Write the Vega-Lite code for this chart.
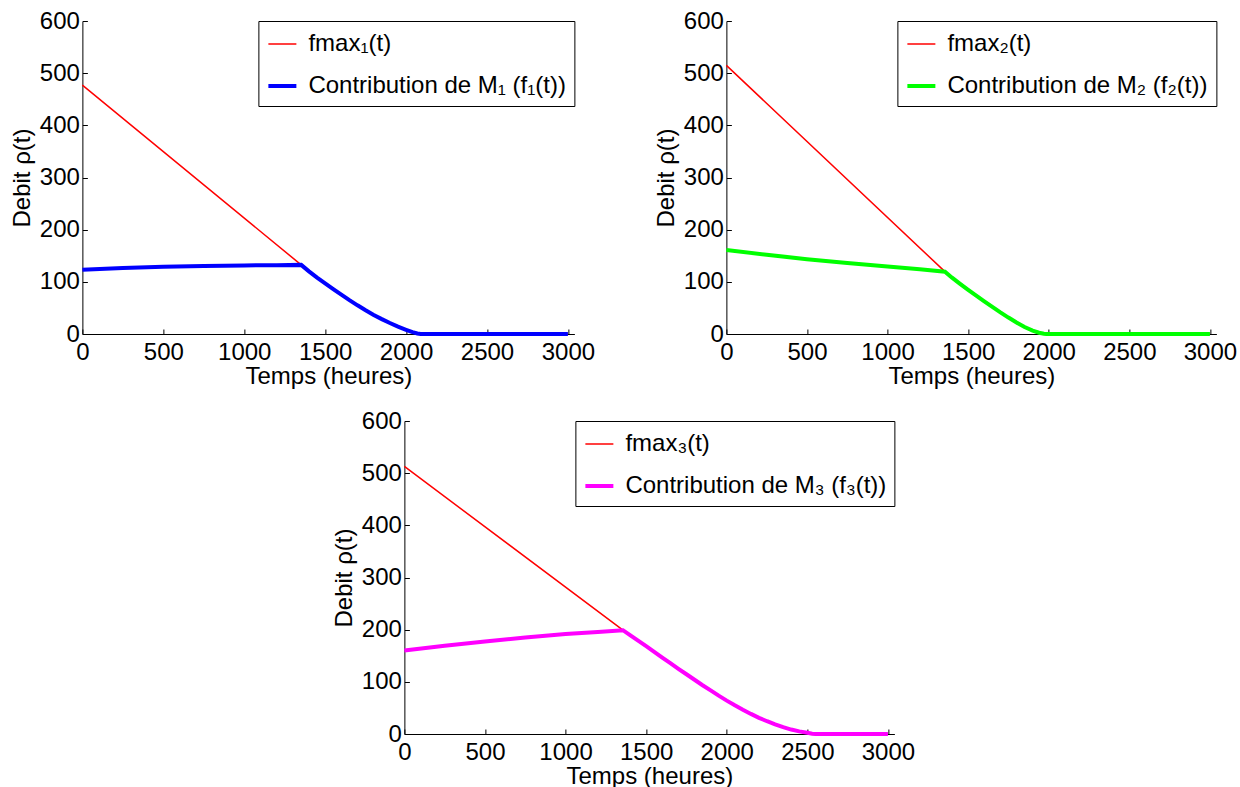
{
  "$schema": "https://vega.github.io/schema/vega-lite/v6.json",
  "padding": {"left": 10, "top": 9, "right": 0, "bottom": 0},
  "background": "white",
  "config": {
    "font": "Liberation Sans",
    "view": {"stroke": null},
    "axis": {
      "labelFont": "Liberation Sans", "titleFont": "Liberation Sans",
      "labelFontSize": 24, "titleFontSize": 24, "titleFontWeight": "normal",
      "labelColor": "black", "titleColor": "black",
      "domainColor": "black", "tickColor": "black", "domainWidth": 1, "tickWidth": 1,
      "tickSize": -5, "grid": false, "labelFlush": false, "labelOverlap": false, "format": "d"
    },
    "axisX": {"titlePadding": 0, "labelPadding": 11},
    "axisY": {"titlePadding": 5, "labelPadding": 8},
    "legend": {
      "orient": "top-right", "offset": 0, "title": null,
      "fillColor": "white", "strokeColor": "black", "padding": 8,
      "labelFont": "Liberation Sans", "labelFontSize": 24, "labelColor": "black", "labelLimit": 500,
      "symbolType": "stroke", "symbolSize": 784, "rowPadding": 14, "labelOffset": 10
    }
  },
  "resolve": {"scale": {"color": "independent", "strokeWidth": "independent"}, "legend": {"color": "independent", "strokeWidth": "independent"}},
  "center": true,
  "spacing": 21,
  "vconcat": [
    {
      "hconcat": [
        {
          "width": 492, "height": 313,
          "data": {"values": [
            {"series": "fmax₁(t)", "t": 0, "v": 477},
            {"series": "fmax₁(t)", "t": 1352, "v": 132.5},
            {"series": "fmax₁(t)", "t": 1400, "v": 120},
            {"series": "fmax₁(t)", "t": 1450, "v": 108},
            {"series": "fmax₁(t)", "t": 1500, "v": 97},
            {"series": "fmax₁(t)", "t": 1550, "v": 86},
            {"series": "fmax₁(t)", "t": 1600, "v": 75.5},
            {"series": "fmax₁(t)", "t": 1650, "v": 65},
            {"series": "fmax₁(t)", "t": 1700, "v": 55},
            {"series": "fmax₁(t)", "t": 1750, "v": 45.5},
            {"series": "fmax₁(t)", "t": 1800, "v": 36.5},
            {"series": "fmax₁(t)", "t": 1850, "v": 28.5},
            {"series": "fmax₁(t)", "t": 1900, "v": 21},
            {"series": "fmax₁(t)", "t": 1950, "v": 14},
            {"series": "fmax₁(t)", "t": 2000, "v": 8},
            {"series": "fmax₁(t)", "t": 2040, "v": 3.5},
            {"series": "fmax₁(t)", "t": 2070, "v": 1},
            {"series": "fmax₁(t)", "t": 2090, "v": 0},
            {"series": "fmax₁(t)", "t": 3000, "v": 0},
            {"series": "Contribution de M₁ (f₁(t))", "t": 0, "v": 123},
            {"series": "Contribution de M₁ (f₁(t))", "t": 250, "v": 126.5},
            {"series": "Contribution de M₁ (f₁(t))", "t": 500, "v": 129},
            {"series": "Contribution de M₁ (f₁(t))", "t": 750, "v": 130.5},
            {"series": "Contribution de M₁ (f₁(t))", "t": 1000, "v": 131.5},
            {"series": "Contribution de M₁ (f₁(t))", "t": 1200, "v": 132},
            {"series": "Contribution de M₁ (f₁(t))", "t": 1352, "v": 132.5},
            {"series": "Contribution de M₁ (f₁(t))", "t": 1400, "v": 120},
            {"series": "Contribution de M₁ (f₁(t))", "t": 1450, "v": 108},
            {"series": "Contribution de M₁ (f₁(t))", "t": 1500, "v": 97},
            {"series": "Contribution de M₁ (f₁(t))", "t": 1550, "v": 86},
            {"series": "Contribution de M₁ (f₁(t))", "t": 1600, "v": 75.5},
            {"series": "Contribution de M₁ (f₁(t))", "t": 1650, "v": 65},
            {"series": "Contribution de M₁ (f₁(t))", "t": 1700, "v": 55},
            {"series": "Contribution de M₁ (f₁(t))", "t": 1750, "v": 45.5},
            {"series": "Contribution de M₁ (f₁(t))", "t": 1800, "v": 36.5},
            {"series": "Contribution de M₁ (f₁(t))", "t": 1850, "v": 28.5},
            {"series": "Contribution de M₁ (f₁(t))", "t": 1900, "v": 21},
            {"series": "Contribution de M₁ (f₁(t))", "t": 1950, "v": 14},
            {"series": "Contribution de M₁ (f₁(t))", "t": 2000, "v": 8},
            {"series": "Contribution de M₁ (f₁(t))", "t": 2040, "v": 3.5},
            {"series": "Contribution de M₁ (f₁(t))", "t": 2070, "v": 1},
            {"series": "Contribution de M₁ (f₁(t))", "t": 2090, "v": 0},
            {"series": "Contribution de M₁ (f₁(t))", "t": 3000, "v": 0}
          ]},
          "encoding": {
            "x": {"field": "t", "type": "quantitative", "scale": {"domain": [0, 3040], "nice": false}, "axis": {"values": [0, 500, 1000, 1500, 2000, 2500, 3000], "title": "Temps (heures)"}},
            "y": {"field": "v", "type": "quantitative", "scale": {"domain": [0, 600], "nice": false}, "axis": {"values": [0, 100, 200, 300, 400, 500, 600], "title": "Debit ρ(t)"}},
            "color": {"field": "series", "type": "nominal", "scale": {"domain": ["fmax₁(t)", "Contribution de M₁ (f₁(t))"], "range": ["#ff0000", "#0000ff"]}},
            "strokeWidth": {"field": "series", "type": "nominal", "scale": {"type": "ordinal", "domain": ["fmax₁(t)", "Contribution de M₁ (f₁(t))"], "range": [1.5, 4]}}
          },
          "layer": [
            {"transform": [{"filter": "indexof(datum.series, 'fmax') == 0"}], "mark": {"type": "line"}},
            {"transform": [{"filter": "indexof(datum.series, 'fmax') != 0"}], "mark": {"type": "line"}}
          ]
        },
        {
          "width": 490, "height": 313,
          "data": {"values": [
            {"series": "fmax₂(t)", "t": 0, "v": 515},
            {"series": "fmax₂(t)", "t": 1356, "v": 119.5},
            {"series": "fmax₂(t)", "t": 1400, "v": 108},
            {"series": "fmax₂(t)", "t": 1450, "v": 96},
            {"series": "fmax₂(t)", "t": 1500, "v": 84.5},
            {"series": "fmax₂(t)", "t": 1550, "v": 73.5},
            {"series": "fmax₂(t)", "t": 1600, "v": 62.5},
            {"series": "fmax₂(t)", "t": 1650, "v": 52},
            {"series": "fmax₂(t)", "t": 1700, "v": 41.5},
            {"series": "fmax₂(t)", "t": 1750, "v": 31.5},
            {"series": "fmax₂(t)", "t": 1800, "v": 22},
            {"series": "fmax₂(t)", "t": 1850, "v": 13.5},
            {"series": "fmax₂(t)", "t": 1900, "v": 6.5},
            {"series": "fmax₂(t)", "t": 1940, "v": 2.5},
            {"series": "fmax₂(t)", "t": 1970, "v": 0.5},
            {"series": "fmax₂(t)", "t": 1985, "v": 0},
            {"series": "fmax₂(t)", "t": 3000, "v": 0},
            {"series": "Contribution de M₂ (f₂(t))", "t": 0, "v": 161},
            {"series": "Contribution de M₂ (f₂(t))", "t": 250, "v": 152},
            {"series": "Contribution de M₂ (f₂(t))", "t": 500, "v": 143.5},
            {"series": "Contribution de M₂ (f₂(t))", "t": 750, "v": 136},
            {"series": "Contribution de M₂ (f₂(t))", "t": 1000, "v": 129.5},
            {"series": "Contribution de M₂ (f₂(t))", "t": 1200, "v": 124},
            {"series": "Contribution de M₂ (f₂(t))", "t": 1356, "v": 119.5},
            {"series": "Contribution de M₂ (f₂(t))", "t": 1400, "v": 108},
            {"series": "Contribution de M₂ (f₂(t))", "t": 1450, "v": 96},
            {"series": "Contribution de M₂ (f₂(t))", "t": 1500, "v": 84.5},
            {"series": "Contribution de M₂ (f₂(t))", "t": 1550, "v": 73.5},
            {"series": "Contribution de M₂ (f₂(t))", "t": 1600, "v": 62.5},
            {"series": "Contribution de M₂ (f₂(t))", "t": 1650, "v": 52},
            {"series": "Contribution de M₂ (f₂(t))", "t": 1700, "v": 41.5},
            {"series": "Contribution de M₂ (f₂(t))", "t": 1750, "v": 31.5},
            {"series": "Contribution de M₂ (f₂(t))", "t": 1800, "v": 22},
            {"series": "Contribution de M₂ (f₂(t))", "t": 1850, "v": 13.5},
            {"series": "Contribution de M₂ (f₂(t))", "t": 1900, "v": 6.5},
            {"series": "Contribution de M₂ (f₂(t))", "t": 1940, "v": 2.5},
            {"series": "Contribution de M₂ (f₂(t))", "t": 1970, "v": 0.5},
            {"series": "Contribution de M₂ (f₂(t))", "t": 1985, "v": 0},
            {"series": "Contribution de M₂ (f₂(t))", "t": 3000, "v": 0}
          ]},
          "encoding": {
            "x": {"field": "t", "type": "quantitative", "scale": {"domain": [0, 3040], "nice": false}, "axis": {"values": [0, 500, 1000, 1500, 2000, 2500, 3000], "title": "Temps (heures)"}},
            "y": {"field": "v", "type": "quantitative", "scale": {"domain": [0, 600], "nice": false}, "axis": {"values": [0, 100, 200, 300, 400, 500, 600], "title": "Debit ρ(t)"}},
            "color": {"field": "series", "type": "nominal", "scale": {"domain": ["fmax₂(t)", "Contribution de M₂ (f₂(t))"], "range": ["#ff0000", "#00ff00"]}},
            "strokeWidth": {"field": "series", "type": "nominal", "scale": {"type": "ordinal", "domain": ["fmax₂(t)", "Contribution de M₂ (f₂(t))"], "range": [1.5, 4]}}
          },
          "layer": [
            {"transform": [{"filter": "indexof(datum.series, 'fmax') == 0"}], "mark": {"type": "line"}},
            {"transform": [{"filter": "indexof(datum.series, 'fmax') != 0"}], "mark": {"type": "line"}}
          ]
        }
      ],
      "spacing": 58,
      "resolve": {"scale": {"color": "independent", "strokeWidth": "independent"}, "legend": {"color": "independent", "strokeWidth": "independent"}}
    },
    {
      "width": 490, "height": 313,
      "data": {"values": [
        {"series": "fmax₃(t)", "t": 0, "v": 513},
        {"series": "fmax₃(t)", "t": 1356, "v": 199},
        {"series": "fmax₃(t)", "t": 1400, "v": 189.5},
        {"series": "fmax₃(t)", "t": 1450, "v": 179},
        {"series": "fmax₃(t)", "t": 1500, "v": 168.5},
        {"series": "fmax₃(t)", "t": 1550, "v": 157.5},
        {"series": "fmax₃(t)", "t": 1600, "v": 146.5},
        {"series": "fmax₃(t)", "t": 1650, "v": 136},
        {"series": "fmax₃(t)", "t": 1700, "v": 125},
        {"series": "fmax₃(t)", "t": 1750, "v": 114.5},
        {"series": "fmax₃(t)", "t": 1800, "v": 104},
        {"series": "fmax₃(t)", "t": 1850, "v": 93.5},
        {"series": "fmax₃(t)", "t": 1900, "v": 83.5},
        {"series": "fmax₃(t)", "t": 1950, "v": 73.5},
        {"series": "fmax₃(t)", "t": 2000, "v": 64},
        {"series": "fmax₃(t)", "t": 2050, "v": 55},
        {"series": "fmax₃(t)", "t": 2100, "v": 46.5},
        {"series": "fmax₃(t)", "t": 2150, "v": 38.5},
        {"series": "fmax₃(t)", "t": 2200, "v": 31},
        {"series": "fmax₃(t)", "t": 2250, "v": 24.5},
        {"series": "fmax₃(t)", "t": 2300, "v": 18.5},
        {"series": "fmax₃(t)", "t": 2350, "v": 13},
        {"series": "fmax₃(t)", "t": 2400, "v": 8.5},
        {"series": "fmax₃(t)", "t": 2450, "v": 5},
        {"series": "fmax₃(t)", "t": 2500, "v": 2.3},
        {"series": "fmax₃(t)", "t": 2530, "v": 0.5},
        {"series": "fmax₃(t)", "t": 2550, "v": 0},
        {"series": "fmax₃(t)", "t": 3000, "v": 0},
        {"series": "Contribution de M₃ (f₃(t))", "t": 0, "v": 160},
        {"series": "Contribution de M₃ (f₃(t))", "t": 250, "v": 169},
        {"series": "Contribution de M₃ (f₃(t))", "t": 500, "v": 177.5},
        {"series": "Contribution de M₃ (f₃(t))", "t": 750, "v": 185},
        {"series": "Contribution de M₃ (f₃(t))", "t": 1000, "v": 191.5},
        {"series": "Contribution de M₃ (f₃(t))", "t": 1200, "v": 195.5},
        {"series": "Contribution de M₃ (f₃(t))", "t": 1356, "v": 199},
        {"series": "Contribution de M₃ (f₃(t))", "t": 1400, "v": 189.5},
        {"series": "Contribution de M₃ (f₃(t))", "t": 1450, "v": 179},
        {"series": "Contribution de M₃ (f₃(t))", "t": 1500, "v": 168.5},
        {"series": "Contribution de M₃ (f₃(t))", "t": 1550, "v": 157.5},
        {"series": "Contribution de M₃ (f₃(t))", "t": 1600, "v": 146.5},
        {"series": "Contribution de M₃ (f₃(t))", "t": 1650, "v": 136},
        {"series": "Contribution de M₃ (f₃(t))", "t": 1700, "v": 125},
        {"series": "Contribution de M₃ (f₃(t))", "t": 1750, "v": 114.5},
        {"series": "Contribution de M₃ (f₃(t))", "t": 1800, "v": 104},
        {"series": "Contribution de M₃ (f₃(t))", "t": 1850, "v": 93.5},
        {"series": "Contribution de M₃ (f₃(t))", "t": 1900, "v": 83.5},
        {"series": "Contribution de M₃ (f₃(t))", "t": 1950, "v": 73.5},
        {"series": "Contribution de M₃ (f₃(t))", "t": 2000, "v": 64},
        {"series": "Contribution de M₃ (f₃(t))", "t": 2050, "v": 55},
        {"series": "Contribution de M₃ (f₃(t))", "t": 2100, "v": 46.5},
        {"series": "Contribution de M₃ (f₃(t))", "t": 2150, "v": 38.5},
        {"series": "Contribution de M₃ (f₃(t))", "t": 2200, "v": 31},
        {"series": "Contribution de M₃ (f₃(t))", "t": 2250, "v": 24.5},
        {"series": "Contribution de M₃ (f₃(t))", "t": 2300, "v": 18.5},
        {"series": "Contribution de M₃ (f₃(t))", "t": 2350, "v": 13},
        {"series": "Contribution de M₃ (f₃(t))", "t": 2400, "v": 8.5},
        {"series": "Contribution de M₃ (f₃(t))", "t": 2450, "v": 5},
        {"series": "Contribution de M₃ (f₃(t))", "t": 2500, "v": 2.3},
        {"series": "Contribution de M₃ (f₃(t))", "t": 2530, "v": 0.5},
        {"series": "Contribution de M₃ (f₃(t))", "t": 2550, "v": 0},
        {"series": "Contribution de M₃ (f₃(t))", "t": 3000, "v": 0}
      ]},
      "encoding": {
        "x": {"field": "t", "type": "quantitative", "scale": {"domain": [0, 3040], "nice": false}, "axis": {"values": [0, 500, 1000, 1500, 2000, 2500, 3000], "title": "Temps (heures)"}},
        "y": {"field": "v", "type": "quantitative", "scale": {"domain": [0, 600], "nice": false}, "axis": {"values": [0, 100, 200, 300, 400, 500, 600], "title": "Debit ρ(t)"}},
        "color": {"field": "series", "type": "nominal", "scale": {"domain": ["fmax₃(t)", "Contribution de M₃ (f₃(t))"], "range": ["#ff0000", "#ff00ff"]}},
        "strokeWidth": {"field": "series", "type": "nominal", "scale": {"type": "ordinal", "domain": ["fmax₃(t)", "Contribution de M₃ (f₃(t))"], "range": [1.5, 4]}}
      },
      "layer": [
        {"transform": [{"filter": "indexof(datum.series, 'fmax') == 0"}], "mark": {"type": "line"}},
        {"transform": [{"filter": "indexof(datum.series, 'fmax') != 0"}], "mark": {"type": "line"}}
      ]
    }
  ]
}
